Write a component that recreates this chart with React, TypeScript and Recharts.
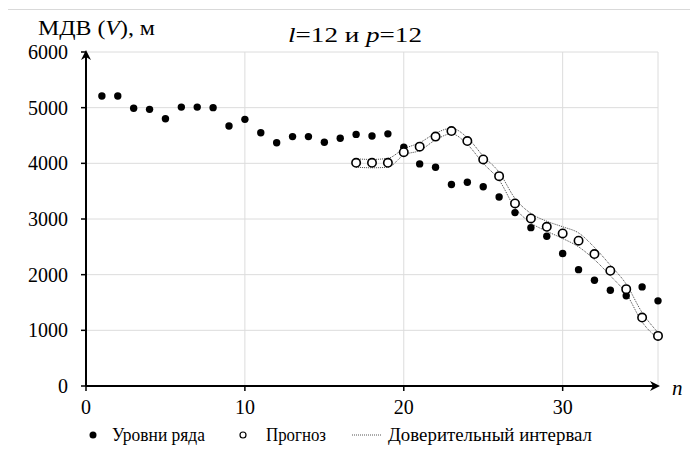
import * as React from "react";
import {
  ComposedChart,
  Line,
  XAxis,
  YAxis,
  CartesianGrid,
} from "recharts";

// порядковый номер n
const nValues = [
  1, 2, 3, 4, 5, 6, 7, 8, 9, 10, 11, 12, 13, 14, 15, 16, 17, 18, 19, 20, 21,
  22, 23, 24, 25, 26, 27, 28, 29, 30, 31, 32, 33, 34, 35, 36,
];

// уровни ряда МДВ
const levels = [
  5210, 5210, 4990, 4970, 4800, 5010, 5010, 5000, 4670, 4790, 4550, 4370,
  4480, 4480, 4380, 4450, 4520, 4490, 4530, 4290, 3990, 3930, 3620, 3660,
  3580, 3395, 3115, 2845, 2690, 2380, 2090, 1900, 1720, 1620, 1780, 1530,
];

// прогноз с n = 17
const forecastStart = 17;
const forecast = [
  4010, 4010, 4010, 4200, 4300, 4480, 4580, 4400, 4070, 3770, 3280, 3010,
  2860, 2740, 2610, 2370, 2070, 1740, 1230, 900,
];
const upper = [
  4080, 4070, 4090, 4260, 4370, 4540, 4630, 4460, 4130, 3840, 3370, 3100,
  2960, 2860, 2750, 2490, 2170, 1830, 1320, 960,
];
const lower = [
  3930, 3920, 3930, 4150, 4230, 4420, 4530, 4340, 4000, 3700, 3200, 2930,
  2780, 2650, 2500, 2270, 1980, 1660, 1150, 850,
];

const xTicks = [0, 10, 20, 30];
const yTicks = [0, 1000, 2000, 3000, 4000, 5000, 6000];

const FONT = "Liberation Serif";

const chartData = nValues.map((n, i) => {
  const j = n - forecastStart;
  return {
    n,
    level: levels[i],
    forecast: j >= 0 ? forecast[j] : null,
    upper: j >= 0 ? upper[j] : null,
    lower: j >= 0 ? lower[j] : null,
  };
});

function FilledDot(props: any) {
  const { cx, cy, value } = props;
  if (value == null || cx == null) return null;
  return <circle key={`f-${cx}`} cx={cx} cy={cy} r={3.7} fill="#000" />;
}

function HollowDot(props: any) {
  const { cx, cy, value } = props;
  if (value == null || cx == null) return null;
  return (
    <circle
      key={`h-${cx}`}
      cx={cx}
      cy={cy}
      r={4.2}
      fill="#fff"
      stroke="#000"
      strokeWidth={1.6}
    />
  );
}

// легенда под осью
function LegendRow({ y }: { y: number }) {
  return (
    <g style={{ fontFamily: FONT }}>
      <circle cx={85} cy={y} r={3.5} fill="#000" />
      <text x={104} y={y + 6} fontSize={18} textLength={93} lengthAdjust="spacingAndGlyphs">
        Уровни ряда
      </text>
      <circle cx={235} cy={y} r={3} fill="#fff" stroke="#000" strokeWidth={1.2} />
      <text x={258} y={y + 6} fontSize={18} textLength={60} lengthAdjust="spacingAndGlyphs">
        Прогноз
      </text>
      <line x1={344} y1={y} x2={374} y2={y} stroke="#555" strokeWidth={1} strokeDasharray="1 1" />
      <text x={380} y={y + 6} fontSize={18} textLength={204} lengthAdjust="spacingAndGlyphs">
        Доверительный интервал
      </text>
    </g>
  );
}

export default function App() {
  const tickStyle = { fontSize: 20, fill: "#000", fontFamily: FONT };
  return (
    <div
      style={{
        marginLeft: -1,
        marginTop: 1,
        width: 691,
        height: 440,
        borderTop: "1px solid #d9d9d9",
        borderLeft: "1px solid #d9d9d9",
        background: "#fff",
      }}
    >
      <svg width={0} height={0} style={{ position: "absolute" }}>
        <defs>
          <marker
            id="arrowHead"
            viewBox="0 0 10 10"
            refX={8}
            refY={5}
            markerWidth={5}
            markerHeight={5}
            orient="auto-start-reverse"
          >
            <path d="M0,0 L10,5 L0,10 L3,5 z" fill="#000" />
          </marker>
        </defs>
      </svg>
      <ComposedChart
        width={690}
        height={439}
        data={chartData}
        margin={{ top: 42, right: 40, bottom: 33, left: 0 }}
      >
        <CartesianGrid stroke="#dcdcdc" strokeWidth={1} />
        <XAxis
          dataKey="n"
          type="number"
          domain={[0, 36]}
          ticks={xTicks}
          height={30}
          tick={tickStyle}
          tickSize={5}
          tickMargin={9}
          tickLine={{ stroke: "#000", strokeWidth: 1.5 }}
          axisLine={{ stroke: "#000", strokeWidth: 2, markerEnd: "url(#arrowHead)" } as any}
        />
        <YAxis
          type="number"
          domain={[0, 6000]}
          ticks={yTicks}
          width={78}
          tick={tickStyle}
          tickSize={5}
          tickMargin={13}
          tickLine={{ stroke: "#000", strokeWidth: 1.5 }}
          axisLine={{ stroke: "#000", strokeWidth: 2, markerStart: "url(#arrowHead)" } as any}
        />
        <Line
          dataKey="upper"
          type="monotone"
          stroke="#444"
          strokeWidth={1}
          strokeDasharray="1 1"
          dot={false}
          activeDot={false}
          connectNulls={false}
          isAnimationActive={false}
        />
        <Line
          dataKey="lower"
          type="monotone"
          stroke="#444"
          strokeWidth={1}
          strokeDasharray="1 1"
          dot={false}
          activeDot={false}
          connectNulls={false}
          isAnimationActive={false}
        />
        <Line
          dataKey="level"
          stroke="none"
          dot={<FilledDot />}
          activeDot={false}
          isAnimationActive={false}
        />
        <Line
          dataKey="forecast"
          stroke="none"
          dot={<HollowDot />}
          activeDot={false}
          isAnimationActive={false}
        />
        <LegendRow y={425} />
        <text x={30} y={25} fontFamily={FONT} fontSize={20} textLength={117} lengthAdjust="spacingAndGlyphs">
          МДВ (<tspan fontStyle="italic">V</tspan>), м
        </text>
        <text x={280} y={32} fontFamily={FONT} fontSize={22} textLength={134} lengthAdjust="spacingAndGlyphs">
          <tspan fontStyle="italic">l</tspan>=12 и <tspan fontStyle="italic">p</tspan>=12
        </text>
        <text x={664} y={385} fontFamily={FONT} fontSize={21} fontStyle="italic">
          n
        </text>
      </ComposedChart>
    </div>
  );
}
